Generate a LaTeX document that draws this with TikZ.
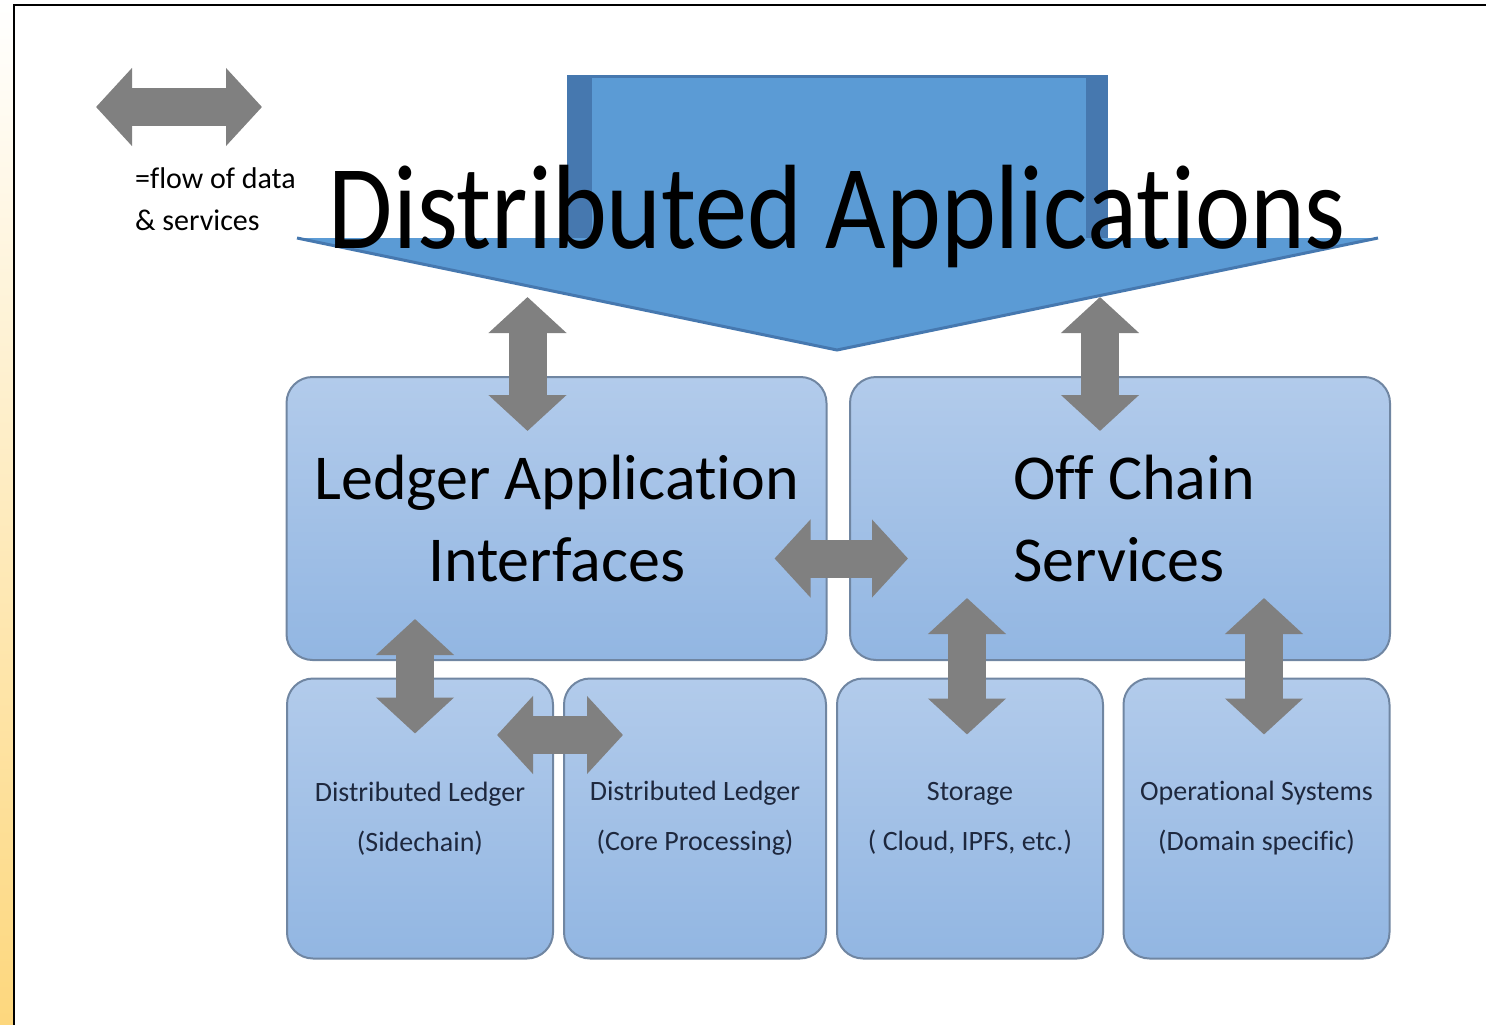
\documentclass[tikz,border=0pt]{standalone}
\usepackage{fontspec}
\setmainfont{Carlito}[Ligatures=NoCommon]
\usetikzlibrary{arrows.meta,calc}
\definecolor{boxtop}{RGB}{178,203,235}
\definecolor{boxbot}{RGB}{146,182,226}
\definecolor{boxline}{RGB}{112,134,162}
\definecolor{appblue}{RGB}{91,155,213}
\definecolor{appdark}{RGB}{70,120,175}
\definecolor{flowgray}{RGB}{128,128,128}
\definecolor{stripbot}{RGB}{253,215,125}
\definecolor{smalltext}{RGB}{30,40,62}

\begin{document}
\begin{tikzpicture}
            [x=1pt,y=-1pt,
             box/.style={draw=boxline,line width=2pt,rounded corners=26pt,top color=boxtop,bottom color=boxbot,align=center,inner sep=0pt},
             bigbox/.style={box,minimum width=540pt,minimum height=283pt,font=\fontsize{64}{82}\selectfont},
             smallbox/.style={box,minimum width=266pt,minimum height=280pt,text=smalltext,font=\fontsize{28}{50}\selectfont},
             flow/.style={flowgray,line width=38pt,{Triangle[length=36pt,width=76pt]}-{Triangle[length=36pt,width=76pt]}}]
            \useasboundingbox (0,0) rectangle (1486,1025);
            \shade[top color=white,bottom color=stripbot] (0,0) rectangle (13,1025);
            \draw[line width=2.5pt] (14,1025) -- (14,5) -- (1486,5);

            % the layers
            \node[bigbox] (lai) at (556.5,518.5) {Ledger Application\\Interfaces};
            \node[bigbox,align=left] (ocs) at (1120,518.5) {\hspace*{28pt}Off Chain\\\hspace*{28pt}Services};
            \node[smallbox] (side) at (420,818.5) {Distributed Ledger\\(Sidechain)};
            \node[smallbox,minimum width=262pt] (core) at (695,818.5) {Distributed Ledger\\(Core Processing)};
            \node[smallbox] (stor) at (970,818.5) {Storage\\( Cloud, IPFS, etc.)};
            \node[smallbox] (ops) at (1256.5,818.5) {Operational Systems\\(Domain specific)};

            % big arrow on top
            \fill[appdark] (567,75) rectangle (1108,240);
            \fill[appblue] (592,78) rectangle (1086,240);
            \fill[appblue] (297,238) -- (1378,238) -- (837,350) -- cycle;
            \draw[appdark,line width=3pt] (297,238) -- (837,350) -- (1378,238);
            \node[font=\fontsize{120}{120}\selectfont,anchor=base,inner sep=0pt] (apps) at (837.5,248) {\scalebox{0.87}[1]{Distributed Applications}};

            % legend
            \coordinate (lgdl) at (96,107);
            \coordinate (lgdr) at (262,107);
            \draw[flow] (lgdl) -- (lgdr);
            \node[anchor=base west,inner sep=0pt,font=\fontsize{30}{36}\selectfont] (lgd1) at (135,188) {=flow of data};
            \node[anchor=base west,inner sep=0pt,font=\fontsize{30}{36}\selectfont] (lgd2) at (135,230) {\& services};

            % flows
            \draw[flow] ($(lai.north)+(-29,-79)$) -- ($(lai.north)+(-29,55)$);
            \draw[flow] ($(ocs.north)+(-20,-79)$) -- ($(ocs.north)+(-20,55)$);
            \draw[flow] ($(lai.east)+(-53,40)$) -- ($(ocs.west)+(59,40)$);
            \draw[flow] ($(lai.south)+(-141.5,-42)$) -- ($(side.north)+(-5,56)$);
            \draw[flow] ($(side.east)+(-57,-83.5)$) -- ($(core.west)+(60,-83.5)$);
            \draw[flow] ($(ocs.south)+(-153,-63)$) -- ($(stor.north)+(-3,57)$);
            \draw[flow] ($(ocs.south)+(144,-63)$) -- ($(ops.north)+(7.5,57)$);

        \end{tikzpicture}
\end{document}
